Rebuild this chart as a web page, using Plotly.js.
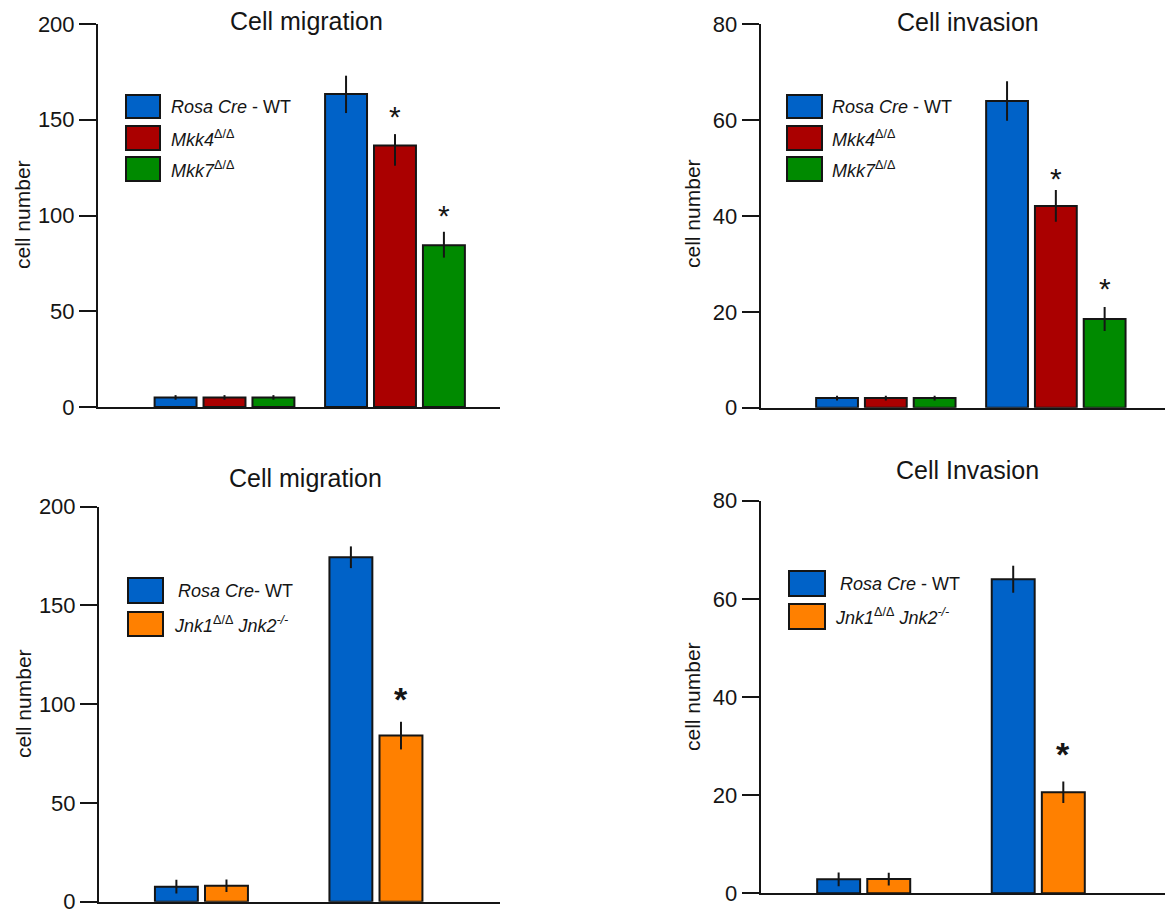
<!DOCTYPE html>
<html>
<head>
<meta charset="utf-8">
<script src="https://cdn.plot.ly/plotly-3.0.1.min.js"></script>
<style>html,body{margin:0;padding:0;background:#fff;}</style>
</head>
<body>
<div id="chart" style="width:1174px;height:909px;"></div>
<script>
// ---------------- DATA ----------------
const groups = ["group 1", "group 2"];

// Top-left: Cell migration (Mkk)
const migA_wt        = [5, 163.5];
const migA_wt_errP   = [1.2, 9.5];
const migA_wt_errM   = [1.2, 10];
const migA_mkk4      = [5, 136.5];
const migA_mkk4_errP = [1.2, 6];
const migA_mkk4_errM = [1.2, 10.5];
const migA_mkk7      = [5, 84.5];
const migA_mkk7_errP = [1.2, 7];
const migA_mkk7_errM = [1.2, 6.5];
const migA_mkk4_sig  = ["", "*"];
const migA_mkk7_sig  = ["", "*"];

// Top-right: Cell invasion (Mkk)
const invA_wt        = [2, 64];
const invA_wt_err    = [0.5, 4.1];
const invA_mkk4      = [2, 42.1];
const invA_mkk4_err  = [0.5, 3.3];
const invA_mkk7      = [2, 18.5];
const invA_mkk7_err  = [0.5, 2.5];
const invA_mkk4_sig  = ["", "*"];
const invA_mkk7_sig  = ["", "*"];

// Bottom-left: Cell migration (Jnk)
const migB_wt        = [7.6, 174.4];
const migB_wt_err    = [3.5, 5.5];
const migB_jnk       = [8.1, 84.1];
const migB_jnk_err   = [3.2, 7];
const migB_jnk_sig   = ["", "*"];

// Bottom-right: Cell Invasion (Jnk)
const invB_wt        = [2.85, 64];
const invB_wt_err    = [1.4, 2.75];
const invB_jnk       = [2.9, 20.6];
const invB_jnk_err   = [1.3, 2.2];
const invB_jnk_sig   = ["", "*"];

// Labels
const titles = ["Cell migration", "Cell invasion", "Cell migration", "Cell Invasion"];
const yTitle = "cell number";
const legendA = ["<i>Rosa Cre</i> - WT", "<i>Mkk4</i><sup>Δ/Δ</sup>", "<i>Mkk7</i><sup>Δ/Δ</sup>"];
const legendB1 = ["<i>Rosa Cre</i>- WT", "<i>Jnk1</i><sup>Δ/Δ</sup> <i>Jnk2</i><sup><i>-/-</i></sup>"];
const legendB2 = ["<i>Rosa Cre</i> - WT", "<i>Jnk1</i><sup>Δ/Δ</sup> <i>Jnk2</i><sup><i>-/-</i></sup>"];
const yTicksMig = [0, 50, 100, 150, 200];
const yTicksInv = [0, 20, 40, 60, 80];

// ---------------- STYLE / LAYOUT ----------------
const W = 1174, H = 909;
const px = v => v / W;
const py = v => 1 - v / H;
const FONT = '"Liberation Sans", Arial, Helvetica, sans-serif';
const INK = '#151515';
const C = {wt: '#0062C8', mkk4: '#AA0000', mkk7: '#008A00', jnk: '#FF8000'};
const SLOT = 0.287, BARW = 0.246;

const panels = [
  { xa: 'x', ya: 'y', xDom: [98, 500], yDom: [24, 407], xRange: [-0.742, 1.616], yRange: [0, 200], ticks: yTicksMig,
    title: titles[0], titleXY: [306, 21], yTitleXY: [22, 215],
    series: [
      {name: legendA[0], v: migA_wt,   ep: migA_wt_errP,   em: migA_wt_errM,   c: C.wt},
      {name: legendA[1], v: migA_mkk4, ep: migA_mkk4_errP, em: migA_mkk4_errM, c: C.mkk4, sig: migA_mkk4_sig},
      {name: legendA[2], v: migA_mkk7, ep: migA_mkk7_errP, em: migA_mkk7_errM, c: C.mkk7, sig: migA_mkk7_sig}],
    sigShift: [0, -1, -2], sigSize: 30, sigBold: false,
    leg: {x0: 126, x1: 160, rows: [[95, 118], [126, 150], [157, 181]], tx: [169, 169, 169]} },
  { xa: 'x2', ya: 'y2', xDom: [760.7, 1165], yDom: [24.3, 407.7], xRange: [-0.736, 1.642], yRange: [0, 80], ticks: yTicksInv,
    title: titles[1], titleXY: [968, 22], yTitleXY: [692, 214],
    series: [
      {name: legendA[0], v: invA_wt,   ep: invA_wt_err,   em: invA_wt_err,   c: C.wt},
      {name: legendA[1], v: invA_mkk4, ep: invA_mkk4_err, em: invA_mkk4_err, c: C.mkk4, sig: invA_mkk4_sig},
      {name: legendA[2], v: invA_mkk7, ep: invA_mkk7_err, em: invA_mkk7_err, c: C.mkk7, sig: invA_mkk7_sig}],
    sigShift: [0, -7, 0], sigSize: 30, sigBold: false,
    leg: {x0: 787, x1: 822, rows: [[95, 118], [126, 150], [157, 181]], tx: [830, 830, 830]} },
  { xa: 'x3', ya: 'y3', xDom: [99, 500], yDom: [506.7, 901.7], xRange: [-0.587, 1.711], yRange: [0, 200], ticks: yTicksMig,
    title: titles[2], titleXY: [305, 478], yTitleXY: [23, 704],
    series: [
      {name: legendB1[0], v: migB_wt,  ep: migB_wt_err,  em: migB_wt_err,  c: C.wt},
      {name: legendB1[1], v: migB_jnk, ep: migB_jnk_err, em: migB_jnk_err, c: C.jnk, sig: migB_jnk_sig}],
    sigShift: [0, 2], sigSize: 34, sigBold: true,
    leg: {x0: 128, x1: 163, rows: [[578, 603], [612, 636]], tx: [176, 172]} },
  { xa: 'x4', ya: 'y4', xDom: [760.7, 1165], yDom: [500.7, 893.3], xRange: [-0.59, 1.726], yRange: [0, 80], ticks: yTicksInv,
    title: titles[3], titleXY: [967, 470], yTitleXY: [692, 697],
    series: [
      {name: legendB2[0], v: invB_wt,  ep: invB_wt_err,  em: invB_wt_err,  c: C.wt},
      {name: legendB2[1], v: invB_jnk, ep: invB_jnk_err, em: invB_jnk_err, c: C.jnk, sig: invB_jnk_sig}],
    sigShift: [0, 6], sigSize: 34, sigBold: true,
    leg: {x0: 789, x1: 825, rows: [[571, 596], [604, 629]], tx: [838, 833]} }
];

const traces = [];
const layout = {
  width: W, height: H, margin: {l: 0, r: 0, t: 0, b: 0},
  paper_bgcolor: '#fff', plot_bgcolor: 'rgba(0,0,0,0)',
  barmode: 'overlay', showlegend: false,
  font: {family: FONT, color: INK},
  annotations: [], shapes: []
};

panels.forEach((p, pi) => {
  const n = p.series.length;
  const sfx = pi === 0 ? '' : String(pi + 1);
  const pxPerUnit = (p.xDom[1] - p.xDom[0]) / (p.xRange[1] - p.xRange[0]);
  layout['xaxis' + sfx] = {
    domain: [px(p.xDom[0]), px(p.xDom[1])], range: p.xRange, type: 'category',
    anchor: p.ya, showline: true, linecolor: INK, linewidth: 2,
    showticklabels: false, ticks: '', showgrid: false, zeroline: false, fixedrange: true
  };
  layout['yaxis' + sfx] = {
    domain: [py(p.yDom[1]), py(p.yDom[0])], range: p.yRange, anchor: p.xa,
    tickvals: p.ticks, ticktext: p.ticks.map(String), ticks: 'outside', ticklen: 17, tickwidth: 2, tickcolor: INK,
    showline: true, linecolor: INK, linewidth: 2, showgrid: false, zeroline: false, fixedrange: true,
    ticklabeloverflow: 'allow',
    tickfont: {family: FONT, size: 22, color: INK}
  };
  p.series.forEach((s, i) => {
    const off = -n * SLOT / 2 + i * SLOT + (SLOT - BARW) / 2;
    traces.push({
      type: 'bar', x: groups, y: s.v, xaxis: p.xa, yaxis: p.ya,
      width: BARW, offset: off, name: s.name, showlegend: false, hoverinfo: 'skip',
      marker: {color: s.c, line: {color: INK, width: 2}},
      error_y: {type: 'data', symmetric: false, array: s.ep, arrayminus: s.em,
                color: INK, thickness: 2, width: 0}
    });
    if (s.sig) {
      s.sig.forEach((t, k) => {
        if (!t) return;
        layout.annotations.push({
          xref: p.xa, yref: p.ya, x: groups[k], y: s.v[k] + s.ep[k],
          xshift: (off + BARW / 2) * pxPerUnit,
          text: p.sigBold ? '<b>' + t + '</b>' : t, showarrow: false, yanchor: 'bottom',
          yshift: p.sigShift[i], font: {family: FONT, size: p.sigSize, color: INK}
        });
      });
    }
    // legend box + label
    const r = p.leg.rows[i];
    layout.shapes.push({type: 'rect', xref: 'paper', yref: 'paper',
      x0: px(p.leg.x0), x1: px(p.leg.x1), y0: py(r[1]), y1: py(r[0]),
      fillcolor: s.c, line: {color: INK, width: 2}});
    layout.annotations.push({xref: 'paper', yref: 'paper', x: px(p.leg.tx[i]), y: py((r[0] + r[1]) / 2),
      xanchor: 'left', yanchor: 'middle', showarrow: false, text: s.name,
      font: {family: FONT, size: 18, color: INK}});
  });
  layout.annotations.push({xref: 'paper', yref: 'paper', x: px(p.titleXY[0]), y: py(p.titleXY[1]),
    xanchor: 'center', yanchor: 'middle', showarrow: false, text: p.title,
    font: {family: FONT, size: 25, color: INK}});
  layout.annotations.push({xref: 'paper', yref: 'paper', x: px(p.yTitleXY[0]), y: py(p.yTitleXY[1]),
    xanchor: 'center', yanchor: 'middle', showarrow: false, text: yTitle, textangle: -90,
    font: {family: FONT, size: 21, color: INK}});
});

Plotly.newPlot('chart', traces, layout, {staticPlot: true, displayModeBar: false});
</script>
</body>
</html>
